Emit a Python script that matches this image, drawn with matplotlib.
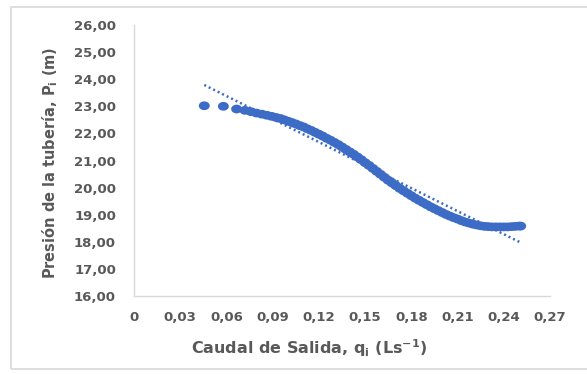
import numpy as np
import matplotlib
matplotlib.use("Agg")
import matplotlib.pyplot as plt
from matplotlib.patches import Rectangle

# Data
caudal = [0.0456, 0.0580, 0.0666, 0.0720, 0.0760, 0.0795, 0.0830, 0.0862, 0.0893, 0.0922,
          0.0950, 0.0975, 0.1000, 0.1025, 0.1050, 0.1075, 0.1100, 0.1125, 0.1150, 0.1175,
          0.1200, 0.1225, 0.1250, 0.1275, 0.1300, 0.1325, 0.1350, 0.1375, 0.1400, 0.1425,
          0.1450, 0.1475, 0.1500, 0.1525, 0.1550, 0.1575, 0.1600, 0.1625, 0.1650, 0.1675,
          0.1700, 0.1725, 0.1750, 0.1775, 0.1800, 0.1825, 0.1850, 0.1875, 0.1900, 0.1925,
          0.1950, 0.1975, 0.2000, 0.2025, 0.2050, 0.2075, 0.2100, 0.2125, 0.2150, 0.2175,
          0.2200, 0.2225, 0.2250, 0.2275, 0.2300, 0.2325, 0.2350, 0.2375, 0.2400, 0.2425,
          0.2450, 0.2475, 0.2500, 0.2510]
presion = [23.02, 23.00, 22.90, 22.85, 22.80, 22.75, 22.71, 22.67, 22.63, 22.59,
           22.55, 22.50, 22.45, 22.40, 22.35, 22.29, 22.24, 22.17, 22.11, 22.04,
           21.97, 21.90, 21.82, 21.75, 21.67, 21.59, 21.50, 21.41, 21.32, 21.23,
           21.13, 21.03, 20.92, 20.82, 20.71, 20.60, 20.49, 20.38, 20.27, 20.17,
           20.07, 19.97, 19.88, 19.79, 19.70, 19.61, 19.53, 19.45, 19.37, 19.29,
           19.22, 19.15, 19.08, 19.01, 18.95, 18.89, 18.84, 18.78, 18.73, 18.69,
           18.65, 18.62, 18.59, 18.57, 18.56, 18.55, 18.55, 18.55, 18.55, 18.55,
           18.56, 18.57, 18.58, 18.58]

x_ticks = [0, 0.03, 0.06, 0.09, 0.12, 0.15, 0.18, 0.21, 0.24, 0.27]
x_tick_labels = ["0", "0,03", "0,06", "0,09", "0,12", "0,15", "0,18", "0,21", "0,24", "0,27"]
y_ticks = [16, 17, 18, 19, 20, 21, 22, 23, 24, 25, 26]
y_tick_labels = ["16,00", "17,00", "18,00", "19,00", "20,00", "21,00", "22,00",
                 "23,00", "24,00", "25,00", "26,00"]

plt.rcParams['font.family'] = ['DejaVu Sans']
plt.rcParams['mathtext.fontset'] = 'dejavusans'
plt.rcParams['mathtext.default'] = 'bf'

W, H = 587, 374
fig = plt.figure(figsize=(W / 100, H / 100), dpi=100)
fig.patch.set_facecolor('white')

# chart-area border
fig.patches.append(Rectangle((11 / W, 1 - 369 / H), 1.2, (369 - 6.5) / H,
                             transform=fig.transFigure, fill=False,
                             edgecolor='#d9d9d9', linewidth=1.2))

ax = fig.add_axes([134 / W, 1 - 296 / H, (550 - 134) / W, (296 - 25) / H])
blue = '#3d6cc6'

# slightly wide oval marker (the reference is horizontally stretched)
t = np.linspace(0, 2 * np.pi, 40)
oval = np.column_stack([np.cos(t), 0.8 * np.sin(t)])

x = np.array(caudal)
y = np.array(presion)
ax.scatter(x, y, s=62, marker=oval, color=blue, edgecolors='none', zorder=3)

coef = np.polyfit(x, y, 1)
xt = np.array([x.min(), x.max()])
ax.plot(xt, np.polyval(coef, xt), linestyle=(0, (0.8, 1.2)), color=blue,
        linewidth=1.8, zorder=4)

ax.set_xlim(0, 0.27)
ax.set_ylim(16, 26)
ax.set_xticks(x_ticks)
ax.set_xticklabels(x_tick_labels)
ax.set_yticks(y_ticks)
ax.set_yticklabels(y_tick_labels)
ax.tick_params(axis='both', length=0, labelsize=9.5, labelcolor='#595959')
ax.tick_params(axis='y', pad=13)
ax.tick_params(axis='x', pad=10.5)
for lab in ax.get_xticklabels() + ax.get_yticklabels():
    lab.set_fontweight('bold')

for s in ['top', 'right']:
    ax.spines[s].set_visible(False)
for s in ['left', 'bottom']:
    ax.spines[s].set_color('#d9d9d9')
    ax.spines[s].set_linewidth(1.0)

fig.text(50 / W, 1 - 163 / H, r'Presión de la tubería, P$_{\mathbf{i}}$ (m)',
         rotation=90, ha='center', va='center', fontsize=10.5, fontweight='bold',
         color='#595959')
fig.text(309 / W, 1 - 348 / H, r'Caudal de Salida, q$_{\mathbf{i}}$ (Ls$^{\mathbf{-1}}$)',
         ha='center', va='center', fontsize=11.5, fontweight='bold', color='#595959')

fig.savefig('out.png', dpi=100, facecolor='white')
